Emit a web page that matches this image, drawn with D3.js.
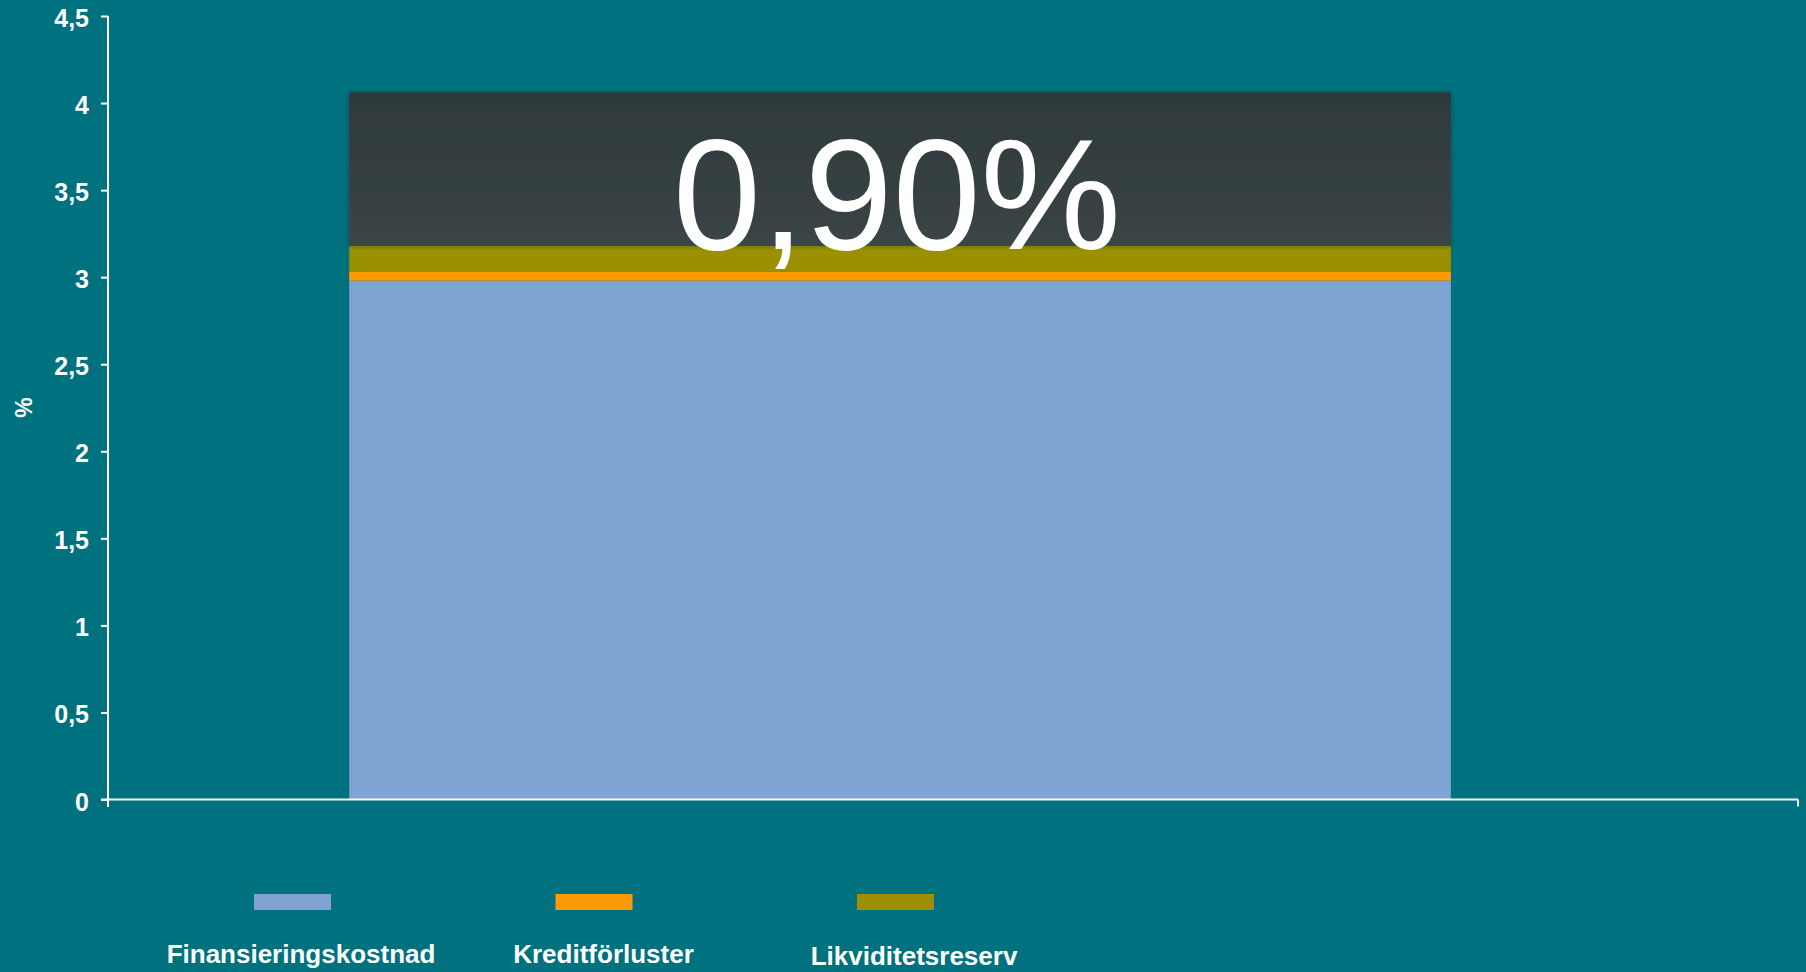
<!DOCTYPE html>
<html>
<head>
<meta charset="utf-8">
<script src="https://cdn.jsdelivr.net/npm/d3@7/dist/d3.min.js"></script>
<style>
  html, body { margin: 0; padding: 0; background: #00717e; }
  svg { display: block; font-family: Arial, "Liberation Sans", sans-serif; }
  .axis path, .axis line { stroke: #fff; stroke-width: 2px; }
  .axis text { fill: #fff; font-size: 25px; font-weight: bold; }
</style>
</head>
<body>
<div id="chart"></div>
<script>
// data
var categories = ["2010"];
var seriesNames = ["Finansieringskostnad", "Kreditförluster", "Likviditetsreserv", "Marginal"];
var seriesColors = ["#7fa3d3", "#ff9a00", "#9a9000", "url(#darkGrad)"];
var seriesValues = [[2.98], [0.05], [0.15], [0.88]];
var marginLabel = "0,90%";
var yTicks = [0, 0.5, 1, 1.5, 2, 2.5, 3, 3.5, 4, 4.5];
var yTickLabels = ["0", "0,5", "1", "1,5", "2", "2,5", "3", "3,5", "4", "4,5"];
var legendNames = seriesNames.slice(0, 3);

var width = 1806, height = 972;
var margin = { top: 16, right: 8, bottom: 173, left: 108 };

var svg = d3.select("#chart")
    .append("svg")
    .attr("width", width)
    .attr("height", height);

var defs = svg.append("defs");
var grad = defs.append("linearGradient")
    .attr("id", "darkGrad")
    .attr("x1", 0).attr("y1", 0).attr("x2", 0).attr("y2", 1);
grad.append("stop").attr("offset", "0%").attr("stop-color", "#2e393b");
grad.append("stop").attr("offset", "100%").attr("stop-color", "#3b4547");
var shadow = defs.append("filter").attr("id", "shadow")
    .attr("x", "-5%").attr("y", "-5%").attr("width", "110%").attr("height", "110%");
shadow.append("feDropShadow")
    .attr("dx", 0).attr("dy", 0).attr("stdDeviation", 2)
    .attr("flood-color", "#1a2a2c").attr("flood-opacity", 0.6);

svg.append("rect")
    .attr("width", width).attr("height", height)
    .attr("fill", "#00717e");

var plotW = width - margin.left - margin.right;
var plotH = height - margin.top - margin.bottom;
var g = svg.append("g")
    .attr("transform", "translate(" + margin.left + "," + margin.top + ")");

var x = d3.scaleBand()
    .domain(categories)
    .range([0, plotW])
    .paddingInner(0)
    .paddingOuter(0.267)
    .align(0.41);
var y = d3.scaleLinear().domain([0, 4.5]).range([plotH + 0.5, 0]);

// stack the series
var rows = categories.map(function (c, i) {
    var r = { cat: c };
    seriesNames.forEach(function (s, k) { r[s] = seriesValues[k][i]; });
    return r;
});
var stacked = d3.stack().keys(seriesNames)(rows);

var layers = g.selectAll(".layer")
    .data(stacked)
    .enter().append("g")
    .attr("class", "layer")
    .attr("fill", function (d, k) { return seriesColors[k]; })
    .attr("filter", function (d, k) { return k === 3 ? "url(#shadow)" : null; });

layers.selectAll("rect")
    .data(function (d) { return d; })
    .enter().append("rect")
    .attr("x", function (d) { return x(d.data.cat); })
    .attr("y", function (d) { return y(d[1]); })
    .attr("width", x.bandwidth())
    .attr("height", function (d) { return y(d[0]) - y(d[1]); });

// axes
var yAxis = g.append("g")
    .attr("class", "axis axis--y")
    .call(d3.axisLeft(y)
        .tickValues(yTicks)
        .tickFormat(function (d, i) { return yTickLabels[i]; })
        .tickSize(7)
        .tickSizeOuter(0)
        .tickPadding(12));
yAxis.selectAll("text").attr("dy", "0.42em");
yAxis.select(".domain").attr("d", "M0," + y(4.5) + "V" + (plotH + 8));

var xAxis = g.append("g")
    .attr("class", "axis axis--x")
    .attr("transform", "translate(0," + y(0) + ")");
xAxis.append("line")
    .attr("x1", -7).attr("x2", plotW)
    .attr("y1", 0).attr("y2", 0);
xAxis.append("line")
    .attr("x1", plotW).attr("x2", plotW)
    .attr("y1", 0).attr("y2", 7);

g.append("text")
    .attr("transform", "translate(" + (-84) + "," + (plotH / 2) + ") rotate(-90)")
    .attr("text-anchor", "middle")
    .attr("dy", "0.35em")
    .attr("fill", "#fff")
    .attr("font-size", "23px")
    .attr("font-weight", "bold")
    .text("%");

// big value label on the top segment
var topSeg = stacked[3][0];
g.append("text")
    .attr("x", x(categories[0]) + x.bandwidth() / 2 - 3)
    .attr("y", y(topSeg[0]) + 3)
    .attr("text-anchor", "middle")
    .attr("fill", "#fff")
    .attr("font-size", "158px")
    .text(marginLabel);

// legend
var legend = svg.append("g").attr("class", "legend");
var item = legend.selectAll(".item")
    .data(legendNames)
    .enter().append("g")
    .attr("class", "item")
    .attr("transform", function (d, i) { return "translate(" + (254 + i * 301.5) + ",894)"; });
item.append("rect")
    .attr("width", 77).attr("height", 16)
    .attr("fill", function (d, i) { return seriesColors[i]; });
item.append("text")
    .attr("x", function (d, i) { return [47, 48, 57][i]; })
    .attr("y", function (d, i) { return i === 2 ? 71 : 69; })
    .attr("text-anchor", "middle")
    .attr("fill", "#fff")
    .attr("font-size", "26px")
    .attr("font-weight", "bold")
    .text(function (d) { return d; });
</script>
</body>
</html>
